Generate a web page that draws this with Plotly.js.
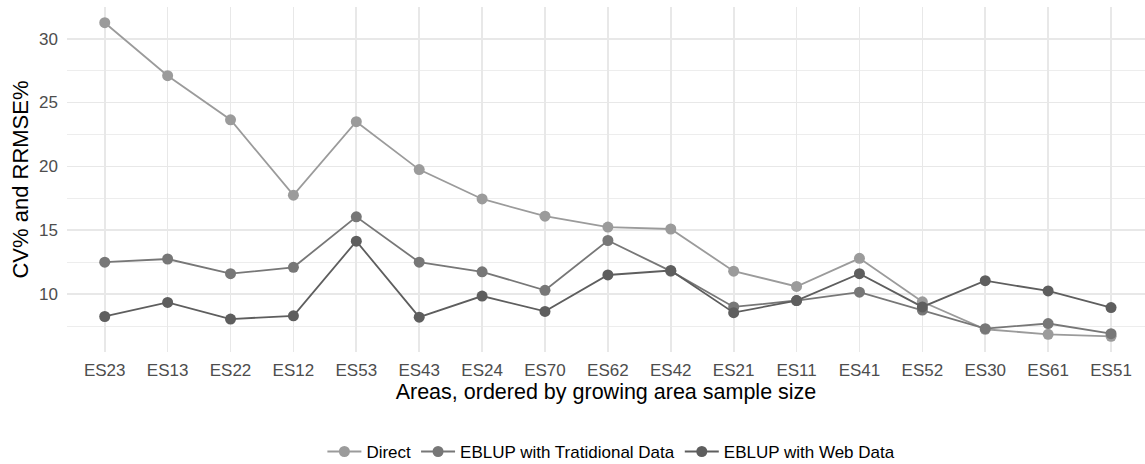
<!DOCTYPE html>
<html>
<head>
<meta charset="utf-8">
<script src="https://cdn.plot.ly/plotly-3.0.1.min.js"></script>
<style>html,body{margin:0;padding:0;background:#fff;}#chart{width:1145px;height:464px;}</style>
</head>
<body>
<div id="chart"></div>
<script>
const areas = ["ES23","ES13","ES22","ES12","ES53","ES43","ES24","ES70","ES62","ES42","ES21","ES11","ES41","ES52","ES30","ES61","ES51"];
const direct = [31.25,27.1,23.65,17.75,23.5,19.75,17.45,16.1,15.25,15.1,11.8,10.6,12.8,9.4,7.25,6.85,6.7];
const eblupTraditional = [12.5,12.75,11.6,12.1,16.05,12.5,11.75,10.3,14.2,11.8,9.0,9.5,10.15,8.75,7.3,7.7,6.9];
const eblupWeb = [8.25,9.35,8.05,8.3,14.15,8.2,9.85,8.65,11.5,11.85,8.55,9.5,11.6,9.0,11.05,10.25,8.95];
const seriesNames = ["Direct","EBLUP with Tratidional Data","EBLUP with Web Data"];
const seriesColors = ["#9b9b9b","#777777","#5e5e5e"];
const seriesValues = [direct, eblupTraditional, eblupWeb];

const traces = seriesValues.map((vals,i)=>({
  type:"scatter", mode:"lines+markers", name:seriesNames[i],
  x:areas, y:vals,
  line:{color:seriesColors[i], width:1.8},
  marker:{color:seriesColors[i], size:11}
}));

const layout = {
  width:1145, height:464,
  margin:{l:67, r:0, t:7, b:112, autoexpand:false},
  paper_bgcolor:"#ffffff", plot_bgcolor:"#ffffff",
  font:{family:"Liberation Sans, Arial, sans-serif", color:"#4d4d4d"},
  showlegend:true,
  legend:{orientation:"h", x:0.505, xanchor:"center", yref:"container", y:0.026, yanchor:"middle",
          font:{size:17, color:"#000000"}, itemwidth:34, tracegroupgap:0},
  xaxis:{
    type:"category", range:[-0.6,16.54], showgrid:true, gridcolor:"#e8e8e8", gridwidth:1.7,
    zeroline:false, showline:false, ticks:"", ticklabelstandoff:6, tickfont:{size:17, color:"#4d4d4d"},
    title:{text:"Areas, ordered by growing area sample size", font:{size:21.5, color:"#000000"}, standoff:4}
  },
  yaxis:{
    range:[5.47,32.48], tickmode:"linear", tick0:0, dtick:5,
    showgrid:true, gridcolor:"#e8e8e8", gridwidth:1.7, zeroline:false, showline:false, ticks:"",
    ticklabelstandoff:8,
    tickfont:{size:17, color:"#4d4d4d"},
    minor:{tickmode:"linear", tick0:0, dtick:2.5, showgrid:true, gridcolor:"#ededed", gridwidth:1, ticks:""},
    title:{text:"CV% and RRMSE%", font:{size:22, color:"#000000"}, standoff:4}
  }
};
Plotly.newPlot("chart", traces, layout, {displayModeBar:false, staticPlot:true});
</script>
</body>
</html>
